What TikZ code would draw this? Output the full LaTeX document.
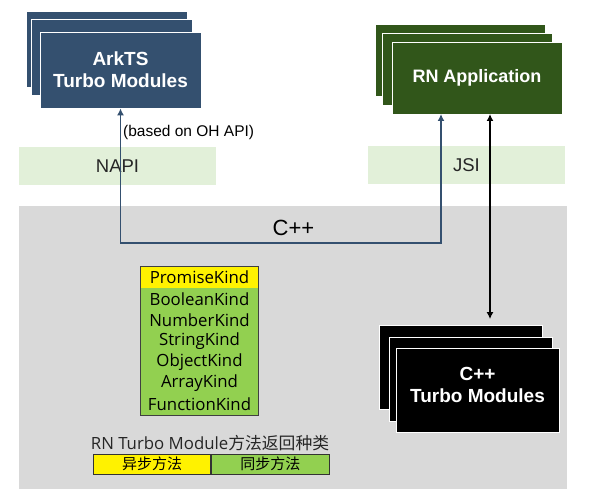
\documentclass[tikz,border=0pt]{standalone}
\usepackage{fontspec}
\setmainfont{Liberation Sans}
\newfontfamily\cjk{Noto Sans CJK SC}
\newfontfamily\kindfont{Open Sans}
\usetikzlibrary{positioning,arrows.meta}
\definecolor{arkblue}{HTML}{34506F}
\definecolor{rngreen}{HTML}{31561A}
\definecolor{bandgreen}{HTML}{E2F0D9}
\definecolor{cppgray}{HTML}{D9D9D9}
\definecolor{kindgreen}{HTML}{92D050}
\tikzset{
  stackbox/.style={draw=white, line width=0.8pt, inner sep=0pt, text=white, align=center,
    font=\fontsize{19}{22}\selectfont\bfseries},
  band/.style={fill=bandgreen, inner sep=0pt, minimum width=197pt, minimum height=38pt,
    text=black!85, font=\fontsize{18.5}{22}\selectfont},
  kind/.style={fill=kindgreen, inner sep=0pt, minimum width=117pt, minimum height=21.14pt,
    font=\kindfont\fontsize{16.8}{18}\selectfont},
  legend/.style={draw=black!80, line width=0.8pt, inner sep=0pt, minimum width=117.5pt,
    minimum height=20pt, font=\cjk\fontsize{15}{17}\selectfont},
  tip/.style={{Latex[length=7pt,width=7pt]}-{Latex[length=7pt,width=7pt]}},
}
\begin{document}
\begin{tikzpicture}[x=1pt, y=-1pt]
\useasboundingbox (0,0) rectangle (590,502);

\node[fill=cppgray, inner sep=0pt, minimum width=548pt, minimum height=283pt] (cpplayer) at (293,347.5) {};
\node[band] (napi) at (117.5,166) {NAPI};
\node[band] (jsi) at (466.5,165) {JSI};

\node[stackbox, fill=arkblue, minimum width=161pt, minimum height=76pt] (arkts3) at (106.5,49) {};
\node[stackbox, fill=arkblue, minimum width=161pt, minimum height=76pt] (arkts2) at (112,57.5) {};
\node[stackbox, fill=arkblue, minimum width=161pt, minimum height=76pt] (arkts1) at (120.5,70) {ArkTS\\Turbo Modules};

\node[stackbox, fill=rngreen, minimum width=170pt, minimum height=72pt] (rnapp3) at (460.5,60.5) {};
\node[stackbox, fill=rngreen, minimum width=170pt, minimum height=72pt] (rnapp2) at (467,69.5) {};
\node[stackbox, fill=rngreen, minimum width=170pt, minimum height=72pt, font=\fontsize{18}{22}\selectfont\bfseries] (rnapp1) at (477,78) {RN Application};

\node[stackbox, fill=black, minimum width=163pt, minimum height=84pt] (cpptm3) at (461,367.5) {};
\node[stackbox, fill=black, minimum width=163pt, minimum height=84pt] (cpptm2) at (471,379) {};
\node[stackbox, fill=black, minimum width=163pt, minimum height=84pt] (cpptm1) at (477.5,390) {};
\node[stackbox, draw=none] (cpptitle) at ([yshift=5.5pt]cpptm1.center) {C++\\Turbo Modules};

\node[font=\fontsize{22}{26}\selectfont, inner sep=0pt] (cpp) at (293.5,228) {C++};
\node[anchor=west, font=\fontsize{15.5}{18}\selectfont, inner sep=0pt] (ohapi) at (123,132) {(based on OH API)};

\coordinate (rnin) at (441,114);
\coordinate (rnout) at (490,114);
\draw[tip, arkblue, line width=1.8pt] (arkts1.south) -- ++(0,135) -| (rnin);
\draw[tip, line width=1.5pt, shorten >=6pt] (rnout) -- (rnout |- cpptm3.north);

\node[kind, fill=yellow] (kind1) at (199.5,277.57) {PromiseKind};
\foreach \k [count=\i from 2] in {BooleanKind,NumberKind,StringKind,ObjectKind,ArrayKind,FunctionKind}
  \node[kind] (kind\i) at (199.5,{256.43+21.14*\i}) {\k};
\draw[black!75, line width=0.8pt] (kind1.north west) rectangle (kind7.south east);

\node[inner sep=0pt, text=black!85, font=\fontsize{16.8}{18}\selectfont] (caption) at (210,443) {{\kindfont RN Turbo Module}{\cjk 方法返回种类}};
\node[legend, fill=yellow] (async) at (152,464) {异步方法};
\node[legend, fill=kindgreen, right=0pt of async] (sync) {同步方法};
\end{tikzpicture}
\end{document}
